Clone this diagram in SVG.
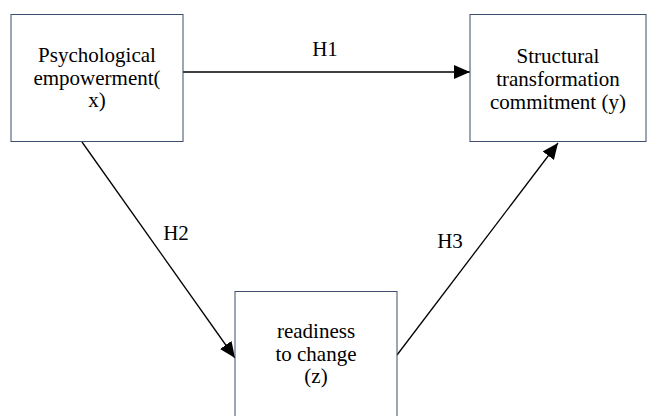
<svg xmlns="http://www.w3.org/2000/svg" width="648" height="416" viewBox="0 0 648 416">
<style>
.box{fill:#ffffff;stroke:#3d4d6d;stroke-width:1}
.t{font-family:'Liberation Serif','Times New Roman',Tinos,'DejaVu Serif',serif;font-size:21px;fill:#000;text-anchor:middle}
.c{stroke:#000;stroke-width:1.3;fill:none}
</style>
<defs>
<marker id="ah" markerUnits="userSpaceOnUse" markerWidth="18" markerHeight="16" refX="16" refY="7" orient="auto">
<path d="M0,0 L16,7 L0,14 z" fill="#000"/>
</marker>
</defs>
<rect width="648" height="416" fill="#ffffff"/>
<g id="connectors">
<line class="c" x1="183" y1="72" x2="470" y2="72" marker-end="url(#ah)"/>
<line class="c" x1="82" y1="142" x2="235" y2="358" marker-end="url(#ah)"/>
<line class="c" x1="397" y1="355" x2="558" y2="143" marker-end="url(#ah)"/>
<text class="t" x="325" y="56">H1</text>
<text class="t" x="176" y="240">H2</text>
<text class="t" x="450" y="248">H3</text>
</g>
<g id="node-x">
<rect class="box" x="11" y="14.5" width="172" height="127"/>
<text class="t" x="97" y="62">Psychological</text>
<text class="t" x="97" y="85">empowerment(</text>
<text class="t" x="97" y="107">x)</text>
</g>
<g id="node-y">
<rect class="box" x="470" y="14.5" width="176" height="127"/>
<text class="t" x="558" y="63">Structural</text>
<text class="t" x="558" y="86">transformation</text>
<text class="t" x="558" y="109">commitment (y)</text>
</g>
<g id="node-z">
<rect class="box" x="235" y="291.5" width="162" height="130"/>
<text class="t" x="316" y="338">readiness</text>
<text class="t" x="316" y="361">to change</text>
<text class="t" x="316" y="383">(z)</text>
</g>
</svg>
